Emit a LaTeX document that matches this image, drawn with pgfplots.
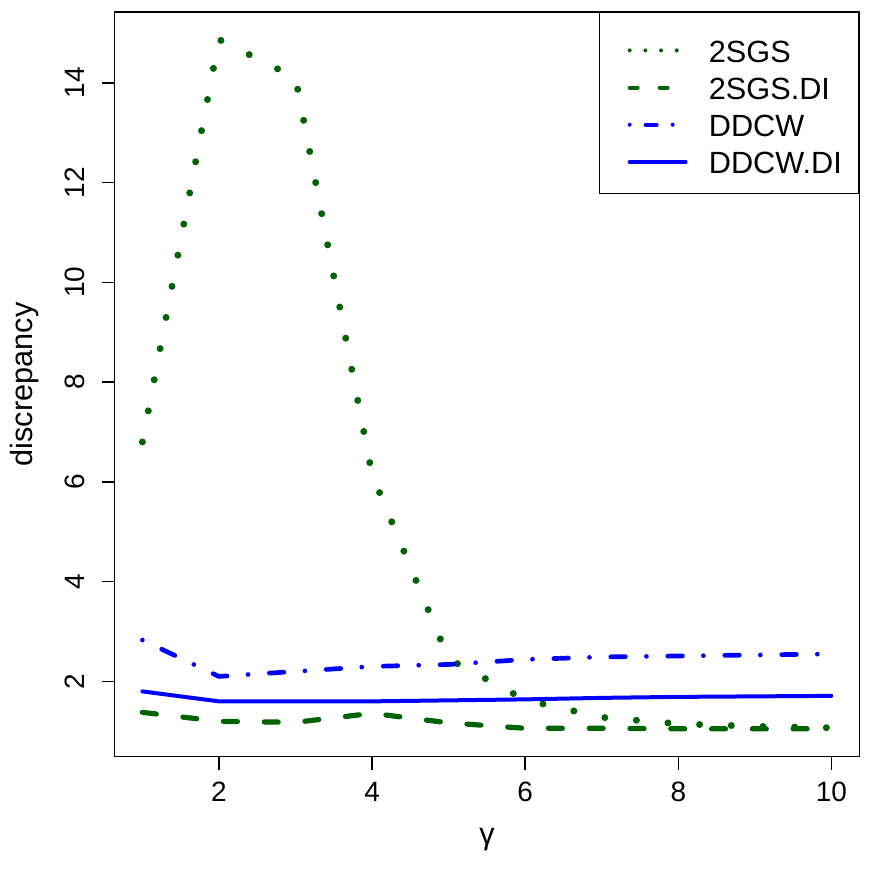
\documentclass[border=0pt]{standalone}
\usepackage{fontspec}
\setmainfont{Liberation Sans}
\usepackage{pgfplots}
\pgfplotsset{compat=1.18}

\definecolor{dgreen}{RGB}{0,100,0}
\definecolor{rblue}{RGB}{0,0,255}

\newcommand{\ticksize}{\fontsize{14}{16}\selectfont}
\newcommand{\labsize}{\fontsize{15.35}{18}\selectfont}

\begin{document}
\begin{tikzpicture}
\begin{axis}[
    width=372.5pt, height=372.5pt, scale only axis,
    xmin=0.638, xmax=10.366,
    ymin=0.49, ymax=15.42,
    xtick={2,4,6,8,10},
    ytick={2,4,6,8,10,12,14},
    tick pos=left,
    tick align=outside,
    major tick length=6.5pt,
    axis line style={line width=0.7pt},
    every tick/.style={black, line width=0.7pt},
    /pgf/number format/assume math mode=true,
    ticklabel style={font=\ticksize},
    xticklabel style={anchor=base, inner sep=0pt},
    yticklabel style={rotate=90, anchor=base, inner sep=0pt},
    xticklabel shift=16pt,
    yticklabel shift=8.5pt,
    xlabel={γ},
    ylabel={discrepancy},
    label style={font=\labsize},
    xlabel style={at={([yshift=-43.8pt]axis description cs:0.5,0)}, anchor=base, inner sep=0pt},
    ylabel style={at={([xshift=-41pt]axis description cs:0,0.5)}, anchor=base, inner sep=0pt},
    legend style={
        at={(rel axis cs:1,1)}, anchor=north east,
        draw=black, line width=0.7pt,
        inner xsep=0pt, inner ysep=10pt,
        row sep=3.9pt, column sep=10.6pt,
        font=\labsize,
        nodes={inner sep=0pt, text height=14.7pt, text depth=0pt, text width=74.95pt, align=left},
    },
    legend cell align=left,
    line join=round,
]
% 2SGS
\addplot[dgreen, line width=3.5pt, line cap=round, dash pattern=on 0pt off 15.85pt,
    legend image code/.code={\path (0,0);
        \draw[dgreen, line width=2pt, line cap=round, dash pattern=on 0pt off 7.85pt] (13.3pt,-1.5pt) -- (41.3pt,-1.5pt);}]
    coordinates {(1,6.80) (2,14.87) (3,14.10) (4,6.15) (5,2.45) (6,1.63) (7,1.28) (8,1.15) (9,1.10) (10,1.07)};
\addlegendentry{2SGS}
% 2SGS.DI
\addplot[dgreen, line width=2.6pt, line cap=round, dash pattern=on 7pt off 13.4pt,
    legend image code/.code={\path (0,0);
        \draw[dgreen, line width=2pt, line cap=round, dash pattern=on 4pt off 11pt] (13.3pt,-1.5pt) -- (41.3pt,-1.5pt);}]
    coordinates {(1,1.38) (2,1.20) (3,1.18) (4,1.36) (5,1.17) (6,1.06) (7,1.06) (8,1.05) (9,1.05) (10,1.05)};
\addlegendentry{2SGS.DI}
% DDCW
\addplot[rblue, line width=2.35pt, line cap=round, dash pattern=on 0pt off 10.7pt on 7.3pt off 10.5pt,
    legend image code/.code={\path (0,0);
        \draw[rblue, line width=2pt, line cap=round, dash pattern=on 0pt off 8pt on 5.5pt off 8pt] (13.3pt,-1.5pt) -- (41.3pt,-1.5pt);}]
    coordinates {(1,2.83) (2,2.10) (3,2.20) (4,2.30) (5,2.34) (6,2.44) (7,2.49) (8,2.51) (9,2.53) (10,2.55)};
\addlegendentry{DDCW}
% DDCW.DI
\addplot[rblue, line width=2pt, line cap=round,
    legend image code/.code={\path (0,0);
        \draw[rblue, line width=2pt, line cap=round] (13.3pt,-1.5pt) -- (41.3pt,-1.5pt);}]
    coordinates {(1,1.80) (2,1.60) (3,1.60) (4,1.60) (5,1.62) (6,1.64) (7,1.67) (8,1.69) (9,1.70) (10,1.71)};
\addlegendentry{DDCW.DI}
\end{axis}
\pgfresetboundingbox
\path ([shift={(-57.35pt,-57.65pt)}]current axis.south west) rectangle ([shift={(6pt,6pt)}]current axis.north east);
\end{tikzpicture}
\end{document}
